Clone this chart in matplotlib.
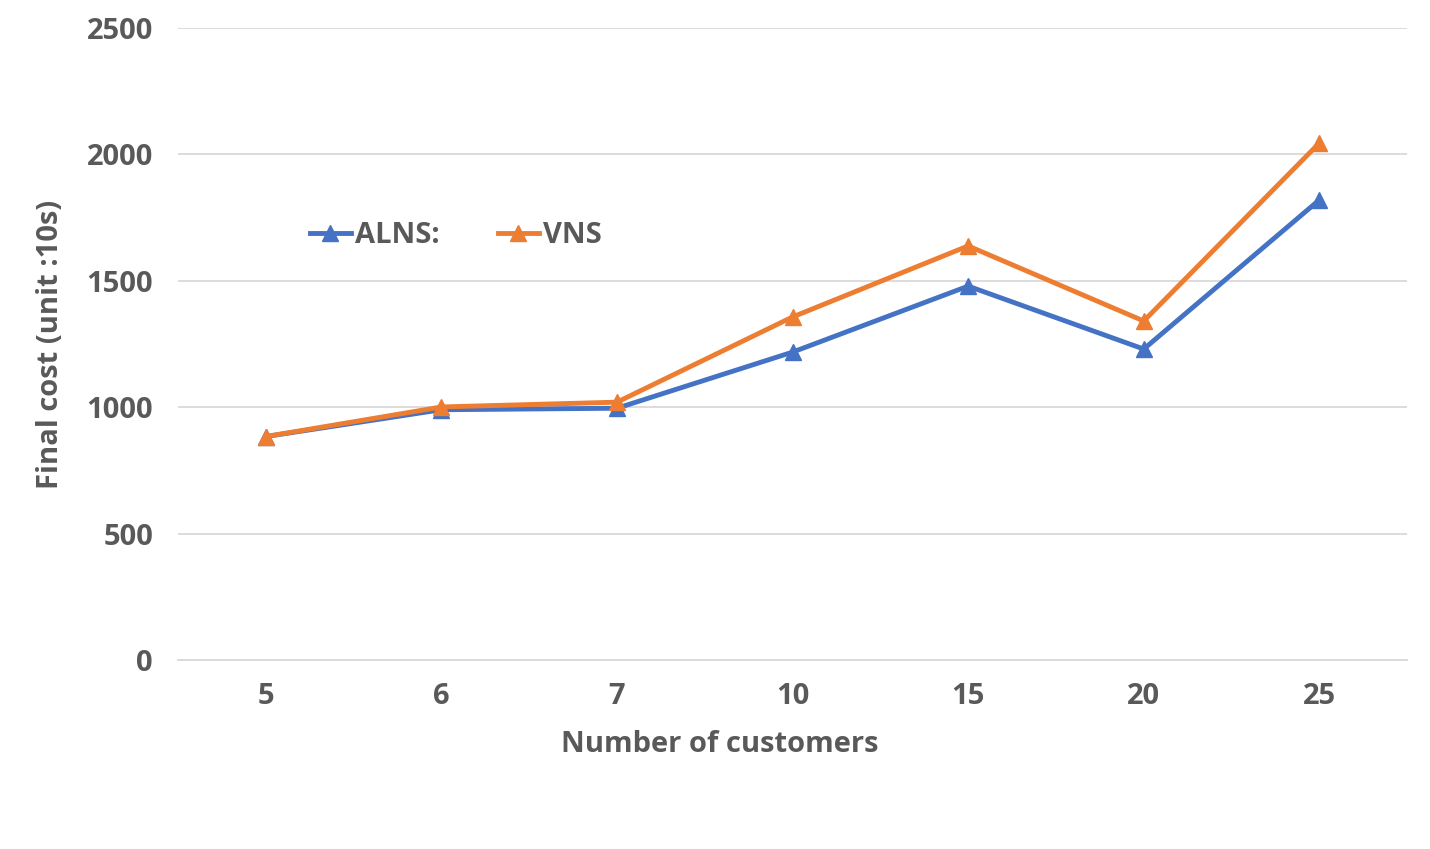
import matplotlib.pyplot as plt
import numpy as np

customers = ["5", "6", "7", "10", "15", "20", "25"]
alns = [884, 990, 996, 1218, 1479, 1230, 1820]
vns = [884, 1001, 1020, 1357, 1638, 1341, 2045]
yticks = [0, 500, 1000, 1500, 2000, 2500]

plt.rcParams['font.family'] = ['Open Sans', 'DejaVu Sans']
gray = "#595959"
fs = 21

fig = plt.figure(figsize=(14.3, 8.49), dpi=100)
ax = fig.add_axes([0.1245, 0.2226, 0.8595, 0.7444])

x = np.arange(len(customers))
ax.plot(x, alns, color="#4472C4", lw=3.5, marker="^", ms=12, label="ALNS:")
ax.plot(x, vns, color="#ED7D31", lw=3.5, marker="^", ms=12, label="VNS")

ax.set_xlim(-0.5, len(customers) - 0.5)
ax.set_ylim(0, 2500)
ax.set_yticks(yticks)
ax.set_xticks(x)
ax.set_xticklabels(customers)
ax.grid(axis="y", color="#D9D9D9", lw=1.3)
ax.set_axisbelow(True)
for s in ["top", "right", "left"]:
    ax.spines[s].set_visible(False)
ax.spines["bottom"].set_color("#D9D9D9")
ax.spines["bottom"].set_linewidth(1.3)
ax.tick_params(length=0, labelsize=fs, labelcolor=gray)
ax.tick_params(axis="y", pad=18)
ax.tick_params(axis="x", pad=16)
for lab in ax.get_xticklabels() + ax.get_yticklabels():
    lab.set_fontweight("bold")

# axis titles placed like the Excel chart (x title centred on the figure)
fig.text(720 / 1430, 1 - 745 / 849, "Number of customers", fontsize=fs,
         color=gray, fontweight="bold", ha="center", va="center")
fig.text(50 / 1430, 1 - 344 / 849, "Final cost (unit :10s)", fontsize=fs,
         color=gray, fontweight="bold", ha="center", va="center", rotation=90)

ax.legend(loc="center", bbox_to_anchor=(0.226, 0.671), ncol=2, frameon=False,
          prop={"size": fs, "weight": "bold"}, labelcolor=gray,
          handlelength=1.4, handletextpad=0.15, columnspacing=2.0)

fig.savefig("out.png", dpi=100)
